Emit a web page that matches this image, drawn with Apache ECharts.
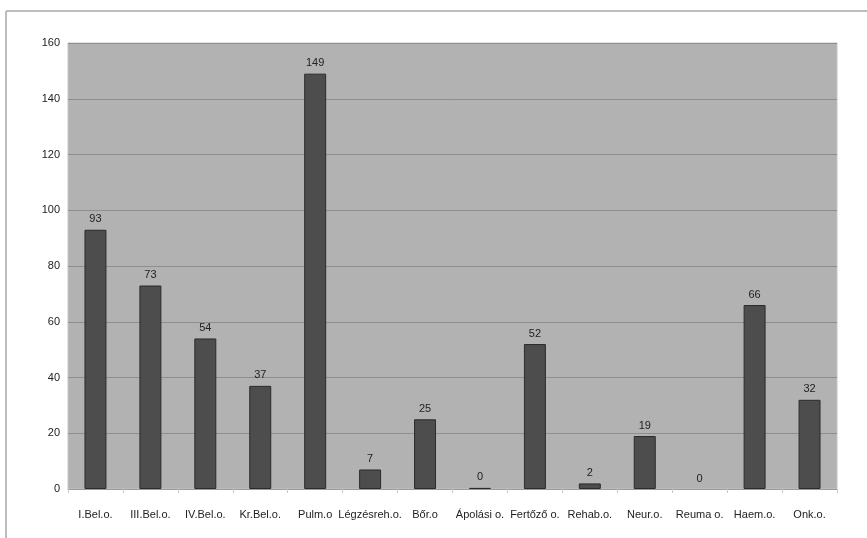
<!DOCTYPE html>
<html>
<head>
<meta charset="utf-8">
<script src="https://cdn.jsdelivr.net/npm/echarts@6/dist/echarts.min.js"></script>
<style>
  html, body { margin: 0; padding: 0; background: #fff; }
  #chart { width: 867px; height: 538px; }
</style>
</head>
<body>
<div id="chart"></div>
<script>
// osztályok és értékek
var categories = ['I.Bel.o.', 'III.Bel.o.', 'IV.Bel.o.', 'Kr.Bel.o.', 'Pulm.o', 'Légzésreh.o.', 'Bőr.o',
  'Ápolási o.', 'Fertőző o.', 'Rehab.o.', 'Neur.o.', 'Reuma o.', 'Haem.o.', 'Onk.o.'];
var values = [93, 73, 54, 37, 149, 7, 25, 0.4, 52, 2, 19, 0, 66, 32];
var yTicks = [0, 20, 40, 60, 80, 100, 120, 140, 160];

var chart = echarts.init(document.getElementById('chart'));

// a nulla értékű oszlopnak ne legyen kerete
var barData = values.map(function (v) {
  return v === 0 ? { value: v, itemStyle: { borderWidth: 0 } } : v;
});

var option = {
  animation: false,
  textStyle: { fontFamily: 'Liberation Sans, Arial, sans-serif' },
  graphic: [
    { type: 'line', shape: { x1: 6, y1: 11, x2: 867, y2: 11 }, style: { stroke: '#bdbdbd', lineWidth: 2 } },
    { type: 'line', shape: { x1: 6, y1: 11, x2: 6, y2: 538 }, style: { stroke: '#bdbdbd', lineWidth: 2 } }
  ],
  grid: {
    left: 68, right: 30, top: 43, bottom: 49,
    show: true, backgroundColor: '#b2b2b2', borderColor: '#c4c4c4', borderWidth: 1
  },
  xAxis: {
    type: 'category',
    data: categories,
    axisLine: { lineStyle: { color: '#9a9a9a', width: 1 } },
    axisTick: { show: true, length: 4, lineStyle: { color: '#c8c8c8' } },
    axisLabel: { color: '#222', fontSize: 11, margin: 20, interval: 0 }
  },
  yAxis: {
    type: 'value',
    min: yTicks[0], max: yTicks[yTicks.length - 1], interval: 20,
    axisLine: { show: false },
    axisTick: { show: false },
    axisLabel: { color: '#222', fontSize: 11, margin: 8 },
    splitLine: { lineStyle: { color: '#8e8e8e', width: 1 } }
  },
  series: [{
    type: 'bar',
    data: barData,
    barWidth: '40%',
    itemStyle: { color: '#4d4d4d', borderColor: '#2b2b2b', borderWidth: 1 },
    label: {
      show: true, position: 'top', distance: 5, color: '#222', fontSize: 11,
      formatter: function (p) { return Math.round(p.value); }
    }
  }]
};

chart.setOption(option);
</script>
</body>
</html>
